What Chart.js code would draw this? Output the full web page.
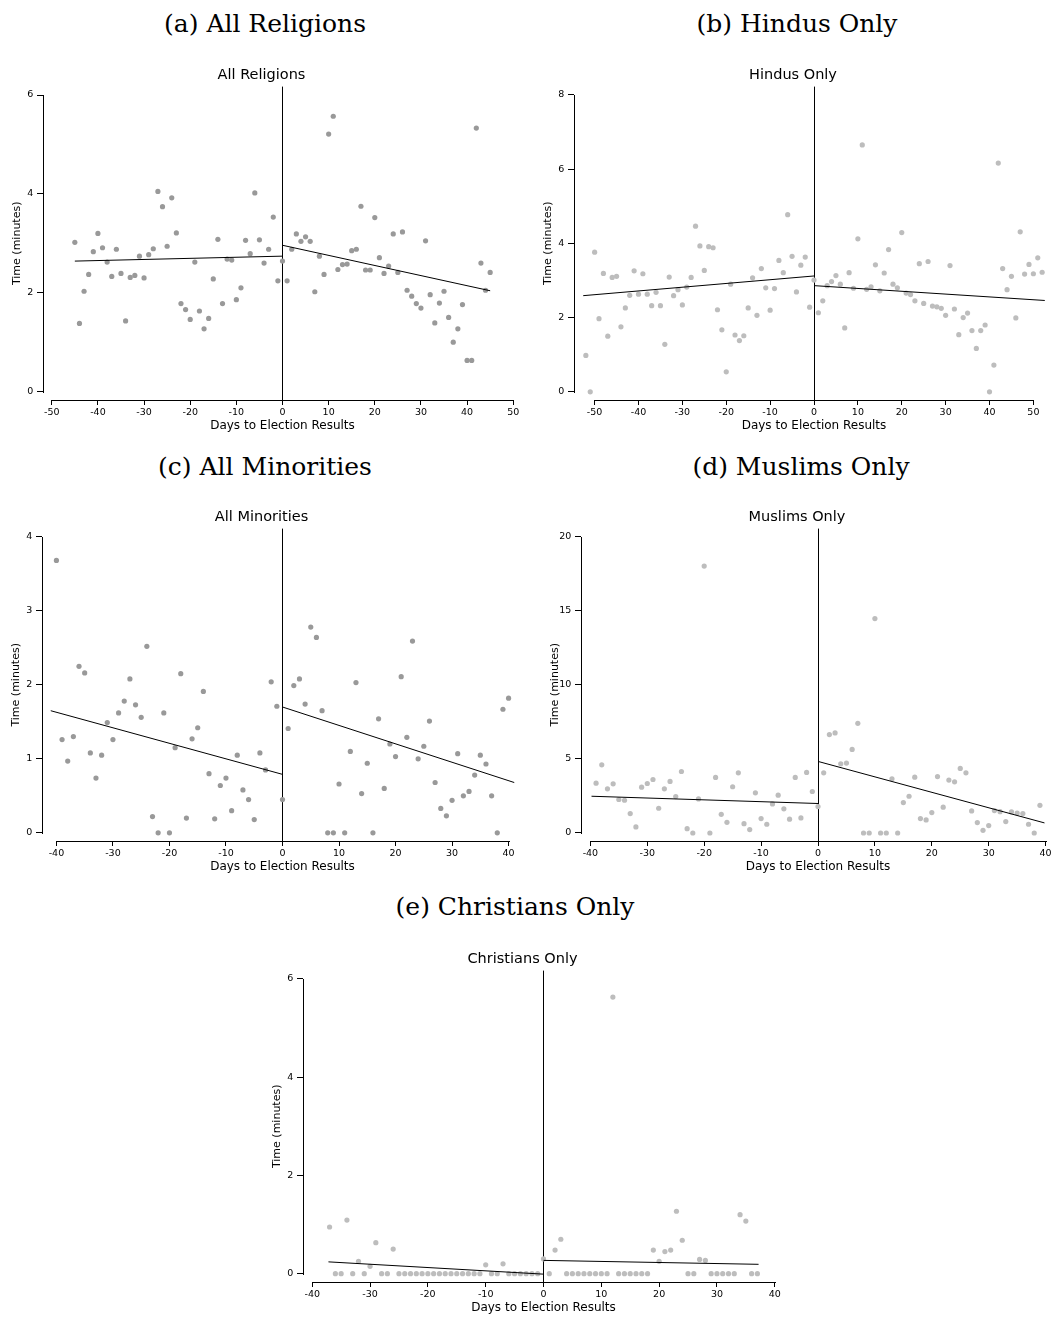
<!DOCTYPE html>
<html>
<head>
<meta charset="utf-8">
<script src="https://cdn.jsdelivr.net/npm/chart.js@4.4.0/dist/chart.umd.min.js"></script>
<style>
html, body { margin: 0; padding: 0; background: #fff; }
body { position: relative; width: 1053px; height: 1317px; overflow: hidden; }
.cap { position: absolute; font-family: "DejaVu Serif", serif; font-size: 25px; line-height: 24px;
       white-space: nowrap; transform: translateX(-50%); color: #000; }
canvas { position: absolute; }
</style>
</head>
<body>
<div class="cap" style="left:265px;top:12px">(a) All Religions</div>
<div class="cap" style="left:797px;top:12px">(b) Hindus Only</div>
<div class="cap" style="left:265px;top:455px">(c) All Minorities</div>
<div class="cap" style="left:801px;top:455px">(d) Muslims Only</div>
<div class="cap" style="left:515px;top:895px">(e) Christians Only</div>

<canvas id="chartA"></canvas>
<canvas id="chartB"></canvas>
<canvas id="chartC"></canvas>
<canvas id="chartD"></canvas>
<canvas id="chartE"></canvas>

<script>
// ---- data (days to election results, time in minutes) ----
var daysA = [-45,-44,-43,-42,-41,-40,-39,-38,-37,-36,-35,-34,-33,-32,-31,-30,-29,-28,-27,-26,-25,-24,-23,-22,-21,-20,-19,-18,-17,-16,-15,-14,-13,-12,-11,-10,-9,-8,-7,-6,-5,-4,-3,-2,-1,0,
             1,2,3,4,5,6,7,8,9,10,11,12,13,14,15,16,17,18,19,20,21,22,23,24,25,26,27,28,29,30,31,32,33,34,35,36,37,38,39,40,41,42,43,44,45];
var timeA = [3.02,1.38,2.03,2.37,2.83,3.20,2.91,2.62,2.33,2.88,2.39,1.43,2.31,2.35,2.74,2.30,2.77,2.89,4.05,3.74,2.94,3.92,3.21,1.78,1.66,1.46,2.62,1.63,1.27,1.48,2.28,3.08,1.78,2.68,2.66,1.86,2.10,3.06,2.79,4.02,3.07,2.60,2.88,3.53,2.24,2.64,
             2.24,2.88,3.19,3.04,3.13,3.04,2.02,2.74,2.37,5.21,5.57,2.47,2.57,2.58,2.85,2.88,3.75,2.46,2.46,3.52,2.71,2.39,2.54,3.19,2.41,3.23,2.05,1.93,1.78,1.69,3.05,1.96,1.39,1.79,2.03,1.50,1.00,1.27,1.76,0.63,0.63,5.33,2.60,2.05,2.41];
var fitPreA = [[-45, 2.64], [0, 2.74]];
var fitPostA = [[0, 2.96], [45, 2.04]];

var daysB = [-52,-51,-50,-49,-48,-47,-46,-45,-44,-43,-42,-41,-40,-39,-38,-37,-36,-35,-34,-33,-32,-31,-30,-29,-28,-27,-26,-25,-24,-23,-22,-21,-20,-19,-18,-17,-16,-15,-14,-13,-12,-11,-10,-9,-8,-7,-6,-5,-4,-3,-2,-1,0,
             1,2,3,4,5,6,7,8,9,10,11,12,13,14,15,16,17,18,19,20,21,22,23,24,25,26,27,28,29,30,31,32,33,34,35,36,37,38,39,40,41,42,43,44,45,46,47,48,49,50,51,52];
var timeB = [0.98,0.00,3.76,1.97,3.19,1.50,3.08,3.11,1.75,2.26,2.60,3.26,2.63,3.18,2.63,2.32,2.68,2.32,1.28,3.09,2.59,2.75,2.34,2.82,3.08,4.46,3.93,3.27,3.91,3.88,2.21,1.67,0.54,2.90,1.53,1.38,1.51,2.26,3.07,2.06,3.32,2.80,2.20,2.78,3.54,3.21,4.77,3.65,2.69,3.41,3.63,2.28,3.01,
             2.13,2.45,2.86,2.97,3.13,2.90,1.72,3.21,2.79,4.12,6.65,2.76,2.83,3.42,2.72,3.20,3.83,2.90,2.80,4.29,2.66,2.62,2.45,3.45,2.38,3.51,2.31,2.29,2.25,2.06,3.40,2.23,1.54,2.00,2.12,1.65,1.17,1.65,1.80,0.00,0.72,6.16,3.32,2.75,3.11,1.99,4.31,3.17,3.43,3.18,3.61,3.22];
var fitPreB = [[-52.6, 2.59], [0, 3.12]];
var fitPostB = [[0, 2.86], [52.6, 2.46]];

var daysC = [-40,-39,-38,-37,-36,-35,-34,-33,-32,-31,-30,-29,-28,-27,-26,-25,-24,-23,-22,-21,-20,-19,-18,-17,-16,-15,-14,-13,-12,-11,-10,-9,-8,-7,-6,-5,-4,-3,-2,-1,0,
             1,2,3,4,5,6,7,8,9,10,11,12,13,14,15,16,17,18,19,20,21,22,23,24,25,26,27,28,29,30,31,32,33,34,35,36,37,38,39,40];
var timeC = [3.68,1.26,0.97,1.30,2.25,2.16,1.08,0.74,1.05,1.49,1.26,1.62,1.78,2.08,1.73,1.56,2.52,0.22,0.00,1.62,0.00,1.15,2.15,0.20,1.27,1.42,1.91,0.80,0.19,0.64,0.74,0.30,1.05,0.58,0.45,0.18,1.08,0.85,2.04,1.71,0.45,
             1.41,1.99,2.08,1.74,2.78,2.64,1.65,0.00,0.00,0.66,0.00,1.10,2.03,0.53,0.94,0.00,1.54,0.60,1.20,1.03,2.11,1.29,2.59,1.00,1.17,1.51,0.68,0.33,0.23,0.44,1.07,0.50,0.56,0.78,1.05,0.93,0.50,0.00,1.67,1.82];
var fitPreC = [[-41, 1.65], [0, 0.79]];
var fitPostC = [[0, 1.70], [41, 0.68]];

var daysD = [-39,-38,-37,-36,-35,-34,-33,-32,-31,-30,-29,-28,-27,-26,-25,-24,-23,-22,-21,-20,-19,-18,-17,-16,-15,-14,-13,-12,-11,-10,-9,-8,-7,-6,-5,-4,-3,-2,-1,0,
             1,2,3,4,5,6,7,8,9,10,11,12,13,14,15,16,17,18,19,20,21,22,23,24,25,26,27,28,29,30,31,32,33,34,35,36,37,38,39];
var timeD = [3.36,4.60,2.98,3.32,2.26,2.21,1.31,0.41,3.09,3.34,3.61,1.67,2.98,3.48,2.46,4.15,0.29,0.00,2.30,18.01,0.00,3.75,1.26,0.72,3.12,4.06,0.63,0.23,2.71,0.97,0.59,1.96,2.55,1.63,0.93,3.75,1.02,4.09,2.80,1.78,
             4.06,6.64,6.75,4.67,4.72,5.64,7.40,0.00,0.00,14.47,0.00,0.00,3.66,0.00,2.05,2.48,3.77,0.97,0.88,1.38,3.81,1.74,3.57,3.45,4.36,4.06,1.49,0.70,0.18,0.50,1.51,1.44,0.77,1.42,1.35,1.31,0.59,0.00,1.87];
var fitPreD = [[-39.8, 2.48], [0, 1.99]];
var fitPostD = [[0, 4.83], [39.8, 0.68]];

var daysE = [-37,-36,-35,-34,-33,-32,-31,-30,-29,-28,-27,-26,-25,-24,-23,-22,-21,-20,-19,-18,-17,-16,-15,-14,-13,-12,-11,-10,-9,-8,-7,-6,-5,-4,-3,-2,-1,0,
             1,2,3,4,5,6,7,8,9,10,11,12,13,14,15,16,17,18,19,20,21,22,23,24,25,26,27,28,29,30,31,32,33,34,35,36,37];
var timeE = [0.95,0,0,1.09,0,0.25,0,0.15,0.63,0,0,0.50,0,0,0,0,0,0,0,0,0,0,0,0,0,0,0,0.18,0,0,0.20,0,0,0,0,0,0,0.30,
             0,0.48,0.70,0,0,0,0,0,0,0,0,5.63,0,0,0,0,0,0,0.48,0.25,0.45,0.48,1.27,0.68,0,0,0.29,0.27,0,0,0,0,0,1.20,1.07,0,0];
var fitPreE = [[-37.2, 0.24], [0, -0.01]];
var fitPostE = [[0, 0.27], [37.2, 0.19]];

var ticksX50 = [-50,-40,-30,-20,-10,0,10,20,30,40,50];
var ticksX40 = [-40,-30,-20,-10,0,10,20,30,40];
var ticksY6 = [0,2,4,6];
var ticksY8 = [0,2,4,6,8];
var ticksY4 = [0,1,2,3,4];
var ticksY20 = [0,5,10,15,20];

// ---- drawing ----
var FONT = "'DejaVu Sans', Arial, sans-serif";
var Y_AXIS_W = 42, X_AXIS_H = 33, PAD_R = 12, PAD_B = 4;
var TITLE_SIZE = 14.5, TITLE_PT = 4, TITLE_PB = 2.2;

// Stata style axes: lines only span the tick range, plus the cutoff at day 0
var stataAxes = {
    id: "stataAxes",
    beforeDatasetsDraw: function (chart) {
        var ctx = chart.ctx, a = chart.chartArea;
        var x0 = Math.round(chart.scales.x.getPixelForValue(0) - 0.5) + 0.5;
        ctx.save();
        ctx.strokeStyle = "#000";
        ctx.lineWidth = 1;
        ctx.beginPath();
        ctx.moveTo(x0, a.top);
        ctx.lineTo(x0, a.bottom);
        ctx.stroke();
        ctx.restore();
    },
    afterDraw: function (chart) {
        var ctx = chart.ctx, a = chart.chartArea;
        var xs = chart.scales.x, ys = chart.scales.y;
        var xt = xs.ticks, yt = ys.ticks;
        var by = Math.round(a.bottom - 0.5) + 0.5;
        var lx = Math.round(a.left - 0.5) + 0.5;
        ctx.save();
        ctx.strokeStyle = "#000";
        ctx.lineWidth = 1;
        ctx.beginPath();
        ctx.moveTo(Math.round(xs.getPixelForValue(xt[0].value)), by);
        ctx.lineTo(Math.round(xs.getPixelForValue(xt[xt.length - 1].value)) + 1, by);
        ctx.moveTo(lx, Math.round(ys.getPixelForValue(yt[0].value)) + 1);
        ctx.lineTo(lx, Math.round(ys.getPixelForValue(yt[yt.length - 1].value)));
        ctx.stroke();
        ctx.restore();
    }
};

function toPoints(days, times) {
    return days.map(function (d, i) { return { x: d, y: times[i] }; });
}

function toLine(fit) {
    return fit.map(function (p) { return { x: p[0], y: p[1] }; });
}

function makePanel(p) {
    var titleH = TITLE_PT + TITLE_SIZE * 1.2 + TITLE_PB;
    var canvas = document.getElementById(p.id);
    var w = (p.area[2] - p.area[0]) + Y_AXIS_W + PAD_R;
    var h = titleH + (p.area[3] - p.area[1]) + X_AXIS_H + PAD_B;
    canvas.width = Math.round(w);
    canvas.height = Math.round(h);
    canvas.style.left = (p.area[0] - Y_AXIS_W) + "px";
    canvas.style.top = (p.area[1] - titleH) + "px";
    canvas.style.width = Math.round(w) + "px";
    canvas.style.height = Math.round(h) + "px";

    var lineStyle = { type: "line", borderColor: "#000", borderWidth: 1, pointRadius: 0, fill: false, tension: 0 };

    new Chart(canvas.getContext("2d"), {
        type: "scatter",
        data: {
            datasets: [
                Object.assign({ data: toLine(p.fitPre) }, lineStyle),
                Object.assign({ data: toLine(p.fitPost) }, lineStyle),
                {
                    data: toPoints(p.days, p.times),
                    pointRadius: 2.6,
                    pointBackgroundColor: p.color,
                    pointBorderWidth: 0,
                    showLine: false
                }
            ]
        },
        options: {
            responsive: false,
            animation: false,
            devicePixelRatio: 1,
            layout: { padding: { left: 0, right: PAD_R, top: 0, bottom: PAD_B } },
            plugins: {
                legend: { display: false },
                tooltip: { enabled: false },
                title: {
                    display: true,
                    text: p.title,
                    color: "#000",
                    font: { family: FONT, size: TITLE_SIZE, weight: "normal", lineHeight: 1.2 },
                    padding: { top: TITLE_PT, bottom: TITLE_PB }
                }
            },
            scales: {
                x: {
                    type: "linear",
                    min: p.xRange[0],
                    max: p.xRange[1],
                    afterBuildTicks: function (s) { s.ticks = p.xTicks.map(function (v) { return { value: v }; }); },
                    afterFit: function (s) { s.height = X_AXIS_H; },
                    grid: { drawOnChartArea: false, drawTicks: true, tickLength: 5, color: "#000", lineWidth: 1 },
                    border: { display: false },
                    ticks: { padding: 2, color: "#000", maxRotation: 0, autoSkip: false,
                             font: { family: FONT, size: 9.5 } },
                    title: { display: true, text: "Days to Election Results", color: "#000", padding: 0,
                             font: { family: FONT, size: 12, lineHeight: 1.2 } }
                },
                y: {
                    type: "linear",
                    min: p.yRange[0],
                    max: p.yRange[1],
                    afterBuildTicks: function (s) { s.ticks = p.yTicks.map(function (v) { return { value: v }; }); },
                    afterFit: function (s) { s.width = Y_AXIS_W; },
                    grid: { drawOnChartArea: false, drawTicks: true, tickLength: 6, color: "#000", lineWidth: 1 },
                    border: { display: false },
                    ticks: { padding: 3.7, color: "#000", autoSkip: false,
                             font: { family: FONT, size: 9.5 } },
                    title: { display: true, text: "Time (minutes)", color: "#000", padding: { top: 9.4, bottom: 0 },
                             font: { family: FONT, size: 11, lineHeight: 1.2 } }
                }
            }
        },
        plugins: [stataAxes]
    });
}

var DARK = "#999999", LIGHT = "#bdbdbd";

makePanel({ id: "chartA", title: "All Religions", days: daysA, times: timeA, fitPre: fitPreA, fitPost: fitPostA,
            xTicks: ticksX50, yTicks: ticksY6, xRange: [-51.9, 51.9], yRange: [-0.17, 6.17],
            area: [43, 87, 522, 400], color: DARK });
makePanel({ id: "chartB", title: "Hindus Only", days: daysB, times: timeB, fitPre: fitPreB, fitPost: fitPostB,
            xTicks: ticksX50, yTicks: ticksY8, xRange: [-54.7, 54.7], yRange: [-0.22, 8.22],
            area: [574, 87, 1054, 400], color: LIGHT });
makePanel({ id: "chartC", title: "All Minorities", days: daysC, times: timeC, fitPre: fitPreC, fitPost: fitPostC,
            xTicks: ticksX40, yTicks: ticksY4, xRange: [-42.55, 42.55], yRange: [-0.11, 4.11],
            area: [42, 529, 523, 841], color: DARK });
makePanel({ id: "chartD", title: "Muslims Only", days: daysD, times: timeD, fitPre: fitPreD, fitPost: fitPostD,
            xTicks: ticksX40, yTicks: ticksY20, xRange: [-41.65, 41.65], yRange: [-0.54, 20.54],
            area: [581, 529, 1055, 841], color: LIGHT });
makePanel({ id: "chartE", title: "Christians Only", days: daysE, times: timeE, fitPre: fitPreE, fitPost: fitPostE,
            xTicks: ticksX40, yTicks: ticksY6, xRange: [-41.6, 41.6], yRange: [-0.17, 6.17],
            area: [303, 971, 784, 1282], color: LIGHT });
</script>
</body>
</html>
